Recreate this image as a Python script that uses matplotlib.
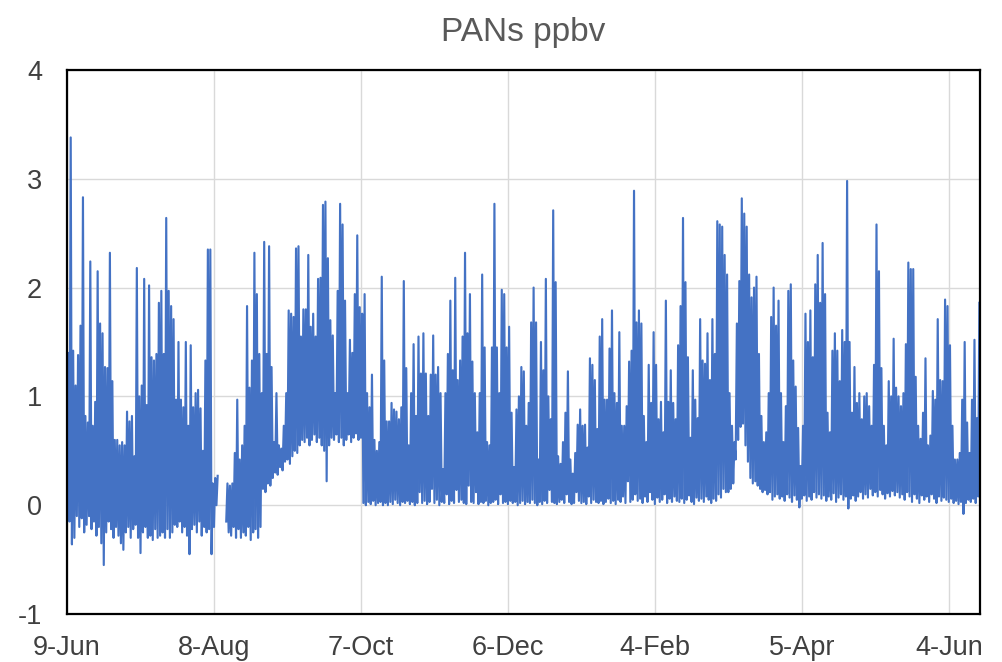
import numpy as np
import matplotlib.pyplot as plt

plt.rcParams['font.family'] = ['Liberation Sans', 'DejaVu Sans']
plt.rcParams['axes.unicode_minus'] = False

nan = np.nan

# daily high / low of the PANs record, day 0 = 9-Jun
daily_high = [
    1.40, 3.38, 1.42, 1.10, 1.38, 1.65, 2.83, 0.82, 0.76, 2.24,
    0.73, 0.95, 2.15, 1.67, 1.58, 1.27, 1.26, 2.32, 1.14, 0.60,
    0.60, 0.55, 0.58, 0.55, 0.86, 0.77, 0.82, 0.45, 2.18, 1.00,
    1.10, 2.08, 0.92, 2.02, 1.36, 1.33, 1.39, 1.86, 1.97, 1.39,
    2.64, 1.97, 1.83, 1.71, 0.97, 1.50, 0.97, 0.90, 1.50, 0.73,
    1.47, 0.90, 1.03, 1.06, 0.89, 0.50, 1.33, 2.35, 2.35, 0.20,
    0.25, 0.27, nan, nan, nan, 0.20, 0.18, 0.20, 0.48, 0.97,
    0.42, 0.55, 0.73, 1.83, 1.08, 1.33, 2.32, 1.94, 1.39, 1.03,
    2.42, 1.39, 2.38, 1.27, 0.58, 1.03, 0.55, 0.52, 0.73, 1.03,
    1.79, 1.76, 1.73, 2.36, 2.38, 1.55, 1.80, 1.80, 2.30, 1.64,
    1.76, 1.55, 2.08, 2.09, 2.76, 2.79, 2.27, 1.70, 1.56, 1.03,
    1.97, 2.77, 2.58, 1.88, 1.03, 1.52, 1.40, 1.94, 2.48, 1.82,
    1.76, 1.94, 1.03, 0.90, 1.20, 0.60, 0.50, 0.58, 2.10, 1.33,
    0.77, 0.77, 0.94, 0.88, 0.86, 0.79, 0.90, 2.06, 1.26, 0.55,
    1.03, 1.48, 0.82, 1.55, 1.21, 1.58, 1.21, 0.82, 1.20, 1.56,
    1.20, 1.27, 1.03, 0.33, 1.03, 1.39, 1.88, 1.24, 2.09, 1.15,
    1.33, 1.55, 2.32, 1.58, 1.94, 1.32, 1.03, 0.67, 1.03, 2.12,
    1.45, 0.58, 0.55, 1.45, 2.77, 1.45, 1.03, 1.98, 1.94, 1.45,
    1.64, 0.85, 0.35, 0.88, 1.00, 1.27, 1.23, 0.73, 0.94, 1.68,
    2.00, 1.68, 0.42, 1.50, 1.24, 2.08, 1.00, 0.79, 2.71, 2.05,
    0.45, 0.38, 0.58, 0.85, 1.23, 0.42, 0.29, 0.48, 0.74, 0.88,
    0.73, 0.74, 0.53, 1.35, 1.29, 1.15, 0.70, 1.55, 1.71, 0.97,
    0.97, 1.44, 1.79, 1.03, 0.94, 1.59, 0.73, 0.73, 0.91, 1.32,
    1.42, 2.89, 1.68, 1.79, 1.67, 0.82, 0.58, 1.29, 0.94, 1.59,
    1.29, 0.79, 0.95, 0.67, 1.88, 0.95, 1.24, 0.94, 0.79, 1.47,
    1.83, 2.64, 2.05, 1.36, 0.62, 1.24, 0.97, 0.80, 1.71, 1.33,
    1.30, 1.58, 1.15, 1.71, 1.39, 2.61, 2.58, 2.56, 2.30, 2.12,
    1.03, 0.73, 0.58, 1.67, 2.06, 2.82, 2.68, 2.56, 2.12, 1.91,
    2.00, 2.10, 1.39, 0.82, 0.58, 0.67, 1.03, 1.73, 2.00, 1.65,
    1.88, 1.03, 0.58, 0.91, 1.97, 2.03, 1.33, 1.09, 0.71, 0.36,
    0.73, 1.76, 1.50, 1.79, 1.36, 2.03, 2.30, 1.86, 2.41, 1.94,
    0.85, 0.67, 1.42, 1.58, 1.42, 1.14, 1.61, 1.50, 2.98, 1.50,
    0.85, 1.27, 0.94, 1.03, 0.79, 1.00, 1.03, 0.91, 0.73, 1.29,
    2.58, 2.15, 1.26, 0.73, 0.55, 1.14, 1.00, 1.53, 1.08, 1.00,
    0.91, 1.03, 1.48, 2.23, 2.17, 2.17, 1.18, 0.73, 0.61, 0.85,
    1.35, 0.55, 0.64, 1.05, 0.97, 1.71, 1.15, 1.14, 1.89, 1.83,
    1.47, 0.73, 0.42, 0.42, 0.48, 0.97, 1.50, 0.76, 0.48, 0.97,
    1.52, 0.80, 1.86,
]

daily_low = [
    -0.05, -0.15, -0.36, -0.30, -0.10, -0.20, -0.12, -0.25, -0.18, -0.10,
    -0.22, -0.15, -0.28, -0.20, -0.35, -0.55, -0.25, -0.15, -0.22, -0.30,
    -0.20, -0.28, -0.35, -0.41, -0.25, -0.20, -0.30, -0.22, -0.18, -0.30,
    -0.44, -0.25, -0.20, -0.30, -0.28, -0.32, -0.22, -0.30, -0.28, -0.25,
    -0.30, -0.22, -0.30, -0.25, -0.18, -0.20, -0.15, -0.25, -0.20, -0.28,
    -0.45, -0.22, -0.18, -0.25, -0.15, -0.28, -0.20, -0.25, -0.22, -0.45,
    -0.20, 0.00, nan, nan, nan, -0.15, -0.25, -0.28, -0.20, -0.30,
    -0.22, -0.30, -0.25, -0.28, -0.20, -0.32, -0.25, -0.22, -0.30, -0.20,
    0.15, 0.12, 0.20, 0.18, 0.25, 0.30, 0.28, 0.35, 0.32, 0.40,
    0.42, 0.38, 0.45, 0.50, 0.48, 0.55, 0.60, 0.58, 0.62, 0.55,
    0.60, 0.65, 0.58, 0.62, 0.55, 0.50, 0.22, 0.55, 0.62, 0.60,
    0.65, 0.58, 0.62, 0.55, 0.60, 0.65, 0.58, 0.62, 0.66, 0.60,
    0.62, 0.02, 0.00, 0.03, 0.01, 0.04, 0.00, 0.02, 0.03, 0.00,
    0.02, 0.00, 0.03, 0.01, 0.05, 0.02, 0.00, 0.03, 0.02, 0.04,
    0.01, 0.03, 0.00, 0.02, 0.12, 0.02, 0.04, 0.01, 0.03, 0.15,
    0.02, 0.05, 0.00, 0.03, 0.02, 0.10, 0.01, 0.04, 0.02, 0.14,
    0.03, 0.05, 0.02, 0.01, 0.18, 0.03, 0.02, 0.12, 0.01, 0.03,
    0.02, 0.04, 0.00, 0.02, 0.03, 0.05, 0.01, 0.10, 0.02, 0.03,
    0.01, 0.04, 0.02, 0.03, 0.00, 0.02, 0.04, 0.01, 0.03, 0.02,
    0.05, 0.02, 0.00, 0.03, 0.01, 0.04, 0.02, 0.14, 0.03, 0.02,
    0.01, 0.03, 0.05, 0.02, 0.10, 0.03, 0.01, 0.02, 0.12, 0.04,
    0.02, 0.03, 0.01, 0.08, 0.02, 0.05, 0.03, 0.02, 0.04, 0.01,
    0.03, 0.06, 0.02, 0.04, 0.01, 0.05, 0.03, 0.08, 0.02, 0.22,
    0.03, 0.05, 0.10, 0.04, 0.06, 0.02, 0.08, 0.03, 0.12, 0.05,
    0.01, 0.07, 0.03, 0.05, 0.10, 0.02, 0.06, 0.03, 0.08, 0.04,
    0.03, 0.06, 0.02, 0.05, 0.09, 0.03, 0.01, 0.07, 0.04, 0.06,
    0.03, 0.08, 0.05, 0.02, 0.06, 0.04, 0.10, 0.07, 0.15, 0.12,
    0.12, 0.15, 0.20, 0.42, 0.60, 0.72, 0.75, 0.55, 0.40, 0.25,
    0.20, 0.22, 0.18, 0.15, 0.12, 0.14, 0.10, 0.12, 0.05, 0.08,
    0.10, 0.06, 0.08, 0.04, 0.10, 0.07, 0.03, 0.09, 0.05, -0.02,
    0.06, 0.09, 0.04, 0.08, 0.05, 0.12, 0.07, 0.10, 0.06, 0.09,
    0.04, 0.08, 0.05, 0.11, 0.03, 0.07, 0.10, 0.05, 0.08, -0.03,
    0.06, 0.09, 0.04, 0.08, 0.12, 0.06, 0.10, 0.07, 0.15, 0.09,
    0.12, 0.08, 0.14, 0.10, 0.06, 0.11, 0.08, 0.13, 0.09, 0.12,
    0.07, 0.10, 0.05, 0.12, 0.08, 0.03, 0.10, 0.06, 0.02, 0.09,
    0.05, 0.08, 0.03, 0.10, 0.06, 0.02, 0.08, 0.04, 0.07, 0.05,
    0.03, 0.06, 0.02, 0.04, 0.01, 0.03, -0.08, 0.02, 0.05, 0.03,
    0.06, 0.02, 0.08,
]

tick_days = [0, 60, 120, 180, 240, 300, 360]
tick_labels = ['9-Jun', '8-Aug', '7-Oct', '6-Dec', '4-Feb', '5-Apr', '4-Jun']
y_ticks = [-1, 0, 1, 2, 3, 4]

# zig-zag low -> high within each day
days = np.arange(len(daily_high))
x = np.column_stack([days, days + 0.5]).ravel()
y = np.column_stack([daily_low, daily_high]).ravel()

fig = plt.figure(figsize=(10.02, 6.62), dpi=100)
ax = fig.add_axes([0.0669, 0.0725, 0.911, 0.8218])

ax.plot(x, y, color='#4472C4', linewidth=1.55)

ax.set_xlim(0, 372.7)
ax.set_ylim(-1, 4)
ax.set_xticks(tick_days)
ax.set_xticklabels(tick_labels)
ax.set_yticks(y_ticks)
ax.grid(True, color='#d9d9d9', linewidth=1)
ax.set_axisbelow(True)
ax.tick_params(axis='both', length=0, labelsize=19.5, colors='#404040')
ax.tick_params(axis='x', pad=15)
ax.tick_params(axis='y', pad=18)
for s in ax.spines.values():
    s.set_color('black')
    s.set_linewidth(1.6)

ax.set_title('PANs ppbv', fontsize=24, color='#595959', pad=21)

fig.savefig('out.png', dpi=100)
